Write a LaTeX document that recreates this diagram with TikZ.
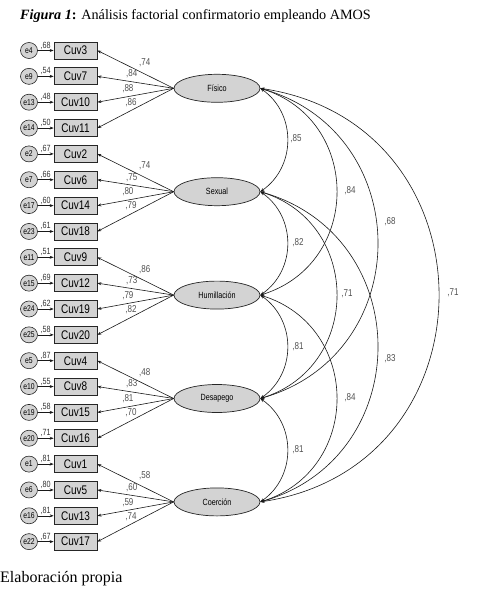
\documentclass[tikz,border=0pt]{standalone}
\usepackage{fontspec}
\setmainfont{Liberation Serif}
\newfontfamily\amos[FakeStretch=0.8]{Liberation Sans}
\usetikzlibrary{shapes.geometric,arrows.meta}
\definecolor{boxfill}{HTML}{D3D3D3}
\definecolor{labgray}{HTML}{505050}
\begin{document}
\begin{tikzpicture}[x=1pt,y=-1pt,
  obs/.style={draw=black!85, fill=boxfill, line width=0.7pt, minimum width=43pt, minimum height=17pt, inner sep=0pt, font=\amos\fontsize{12.5}{12.5}\selectfont},
  lat/.style={ellipse, draw=black!85, fill=boxfill, line width=0.7pt, minimum width=86pt, minimum height=28pt, inner sep=0pt, font=\amos\fontsize{9}{9}\selectfont},
  err/.style={ellipse, draw=black!85, fill=boxfill, line width=0.6pt, minimum width=17pt, minimum height=16pt, inner sep=0pt, font=\amos\fontsize{8.5}{8.5}\selectfont},
  lab/.style={font=\amos\fontsize{10}{10}\selectfont, text=labgray, inner sep=1pt},
  elab/.style={font=\amos\fontsize{9}{9}\selectfont, text=black!80, inner sep=1pt},
  arr/.style={-{Stealth[length=4pt,width=3pt]}, line width=0.6pt, draw=black!90},
  cov/.style={{Stealth[length=4pt,width=3pt]}-{Stealth[length=4pt,width=3pt]}, line width=0.6pt, draw=black!90},
]
\useasboundingbox (0,0) rectangle (476,593);

\node[anchor=base west, inner sep=0pt, font=\fontsize{14.2}{16}\selectfont] (title) at (20,19.5) {\textbf{\textit{Figura 1}:} Análisis factorial confirmatorio empleando AMOS};
\node[anchor=base west, inner sep=0pt, font=\fontsize{16}{18}\selectfont] (src) at (0,582) {Elaboración propia};

\foreach \i/\c/\e/\v in {0/3/4/68, 1/7/9/54, 2/10/13/48, 3/11/14/50, 4/2/2/67, 5/6/7/66, 6/14/17/60, 7/18/23/61, 8/9/11/51, 9/12/15/69, 10/19/24/62, 11/20/25/58, 12/4/5/87, 13/8/10/55, 14/15/19/58, 15/16/20/71, 16/1/1/81, 17/5/6/80, 18/13/16/81, 19/17/22/67}
{
  \node[obs] (c\c) at (75.5, {50.5+25.85*\i}) {Cuv\c};
  \node[err] (e\e) at (29, {50.5+25.85*\i}) {e\e};
  \draw[arr] (e\e) -- (c\c) node[midway, above, elab] {,\v};
}

\node[lat] (F) at (217, 88.3) {Físico};
\node[lat] (S) at (217, 191.7) {Sexual};
\node[lat] (H) at (217, 295.1) {Humillación};
\node[lat] (D) at (217, 398.5) {Desapego};
\node[lat] (C) at (217, 501.9) {Coerción};

\foreach \c/\v/\f/\p/\o in {3/74/F/.38/6, 7/84/F/.55/2.5, 10/88/F/.6/2.5, 11/86/F/.56/2.5,
  2/74/S/.38/6, 6/75/S/.55/2.5, 14/80/S/.6/2.5, 18/79/S/.56/2.5,
  9/86/H/.38/6, 12/73/H/.55/2.5, 19/79/H/.6/2.5, 20/82/H/.56/2.5,
  4/48/D/.38/6, 8/83/D/.55/2.5, 15/81/D/.6/2.5, 16/70/D/.56/2.5,
  1/58/C/.38/6, 5/60/C/.55/2.5, 13/59/C/.6/2.5, 17/74/C/.56/2.5}
{
  \draw[arr] (\f.west) -- (c\c.east) node[pos=\p, above=\o pt, lab] {,\v};
}

% span 1
\draw[cov] (F.east) .. controls +(36,25.1) and +(36,-25.1) .. (S.east);
\draw[cov] (S.east) .. controls +(36,25.1) and +(36,-25.1) .. (H.east);
\draw[cov] (H.east) .. controls +(36,25.1) and +(36,-25.1) .. (D.east);
\draw[cov] (D.east) .. controls +(36,25.1) and +(36,-25.1) .. (C.east);
% span 2
\draw[cov] (F.east) .. controls +(101.5,31.6) and +(101.5,-31.6) .. (H.east);
\draw[cov] (S.east) .. controls +(101.5,31.6) and +(101.5,-31.6) .. (D.east);
\draw[cov] (H.east) .. controls +(101.5,31.6) and +(101.5,-31.6) .. (C.east);
% span 3
\draw[cov] (F.east) .. controls +(156.1,44.5) and +(156.1,-44.5) .. (D.east);
\draw[cov] (S.east) .. controls +(156.1,44.5) and +(156.1,-44.5) .. (C.east);
% span 4
\draw[cov] (F.east) .. controls +(237.5,35.5) and +(237.5,-35.5) .. (C.east);

\node[lab] (kFS) at (296,139) {,85};
\node[lab] (kSH) at (298,243) {,82};
\node[lab] (kHD) at (298,347) {,81};
\node[lab] (kDC) at (298,450) {,81};
\node[lab] (kFH) at (350,191) {,84};
\node[lab] (kSD) at (347,294) {,71};
\node[lab] (kHC) at (350,398) {,84};
\node[lab] (kFD) at (390,222) {,68};
\node[lab] (kSC) at (390,359) {,83};
\node[lab] (kFC) at (453,293) {,71};
\end{tikzpicture}
\end{document}
